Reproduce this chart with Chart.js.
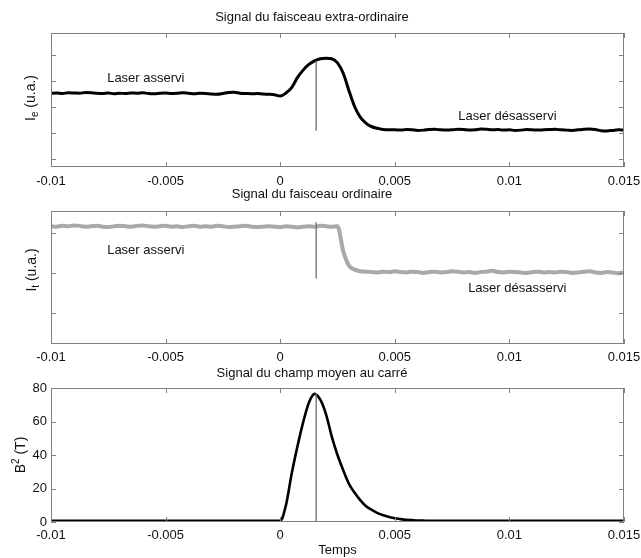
<!DOCTYPE html>
<html lang="fr">
<head>
<meta charset="utf-8">
<script src="https://cdn.jsdelivr.net/npm/chart.js@4.4.1/dist/chart.umd.min.js"></script>
<style>
html, body { margin: 0; padding: 0; background: #fff; }
#page { position: relative; width: 641px; height: 558px; overflow: hidden; background: #fff; }
canvas { position: absolute; left: 0; }
</style>
</head>
<body>
<div id="page">
  <canvas id="c1" width="641" height="200" style="top:0px"></canvas>
  <canvas id="c2" width="641" height="190" style="top:180px"></canvas>
  <canvas id="c3" width="641" height="200" style="top:358px"></canvas>
</div>
<script>
// temps en ms (l'axe affiche des secondes)
const temps = [
  -10,-9.75,-9.5,-9.25,-9,-8.75,-8.5,-8.25,-8,-7.75,
  -7.5,-7.25,-7,-6.75,-6.5,-6.25,-6,-5.75,-5.5,-5.25,
  -5,-4.75,-4.5,-4.25,-4,-3.75,-3.5,-3.25,-3,-2.75,
  -2.5,-2.25,-2,-1.75,-1.5,-1.25,-1,-0.75,-0.5,-0.25,
  0,0.25,0.5,0.75,1,1.25,1.5,1.75,2,2.25,
  2.5,2.75,3,3.25,3.5,3.75,4,4.25,4.5,4.75,
  5,5.25,5.5,5.75,6,6.25,6.5,6.75,7,7.25,
  7.5,7.75,8,8.25,8.5,8.75,9,9.25,9.5,9.75,
  10,10.25,10.5,10.75,11,11.25,11.5,11.75,12,12.25,
  12.5,12.75,13,13.25,13.5,13.75,14,14.25,14.5,14.75,
  15
];

const xTicks = [-10, -5, 0, 5, 10, 15];
const xTickLabels = ["-0.01", "-0.005", "0", "0.005", "0.01", "0.015"];

// faisceau extra-ordinaire (u.a.)
const signalIe = [
  3.53,3.54,3.52,3.55,3.54,3.53,3.56,3.55,3.53,3.52,
  3.54,3.51,3.53,3.52,3.54,3.53,3.55,3.52,3.51,3.53,
  3.54,3.52,3.53,3.55,3.53,3.51,3.53,3.52,3.50,3.49,
  3.52,3.56,3.57,3.53,3.52,3.51,3.52,3.50,3.49,3.47,
  3.42,3.54,3.75,4.13,4.42,4.64,4.78,4.86,4.88,4.86,
  4.70,4.30,3.63,3.01,2.60,2.37,2.24,2.18,2.13,2.12,
  2.12,2.11,2.13,2.12,2.10,2.11,2.13,2.14,2.12,2.11,
  2.12,2.14,2.13,2.11,2.12,2.15,2.14,2.12,2.13,2.11,
  2.12,2.10,2.11,2.13,2.12,2.11,2.12,2.13,2.14,2.12,
  2.11,2.10,2.12,2.14,2.15,2.13,2.09,2.08,2.10,2.12,
  2.11
];

// faisceau ordinaire (u.a.)
const signalIt = [
  3.17,3.16,3.18,3.17,3.19,3.18,3.16,3.17,3.18,3.16,
  3.15,3.17,3.18,3.17,3.16,3.18,3.19,3.17,3.16,3.17,
  3.18,3.16,3.17,3.15,3.17,3.18,3.16,3.17,3.16,3.18,
  3.17,3.15,3.16,3.17,3.18,3.16,3.15,3.16,3.17,3.16,
  3.15,3.17,3.16,3.14,3.16,3.17,3.16,3.18,3.17,3.16,
  3.17,2.55,2.19,2.09,2.05,
  2.04,2.03,2.02,2.04,2.03,2.05,2.03,2.02,2.04,2.03,
  2.01,2.03,2.04,2.02,2.03,2.05,2.04,2.02,2.03,2.01,
  2.03,2.04,2.06,2.03,2.02,2.04,2.03,2.02,2.01,2.03,
  2.04,2.02,2.03,2.02,2.04,2.03,2.01,2.02,2.04,2.05,
  2.02,2.01,2.03,2.02,2.00,2.02
];

// champ moyen au carré (T)
const signalB2 = [
  0.7,0.7,0.7,0.7,0.7,0.7,0.7,0.7,0.7,0.7,
  0.7,0.7,0.7,0.7,0.7,0.7,0.7,0.7,0.7,0.7,
  0.7,0.7,0.7,0.7,0.7,0.7,0.7,0.7,0.7,0.7,
  0.7,0.7,0.7,0.7,0.7,0.7,0.7,0.7,0.7,0.7,
  0.7,10,28.8,45,59.5,71.2,76.5,73,64.3,51,
  40,30.9,22.8,17.4,12.9,9.4,7.2,5.3,4.0,3.0,
  2.2,1.7,1.3,1.1,0.9,0.8,0.7,0.7,0.7,0.7,
  0.7,0.7,0.7,0.7,0.7,0.7,0.7,0.7,0.7,0.7,
  0.7,0.7,0.7,0.7,0.7,0.7,0.7,0.7,0.7,0.7,
  0.7,0.7,0.7,0.7,0.7,0.7,0.7,0.7,0.7,0.7,
  0.7
];

// trait vertical (instant du maximum)
const repereT = 1.57;
const repereIe = [4.78, 2.09];
const repereIt = [3.27, 1.87];
const repereB2 = [77, 0];

const yTicksIe = [1, 2, 3, 4, 5];
const yTicksIt = [1, 2, 3];
const yTicksB2 = [0, 20, 40, 60, 80];

const FONT = "'Liberation Sans', Arial, sans-serif";
Chart.defaults.font.family = FONT;
Chart.defaults.color = "#111";

// cadre matlab : bord, graduations vers l'intérieur, textes, label y
const cadre = {
  id: "cadre",
  afterDatasetsDraw(chart, args, o) {
    const { ctx, chartArea: a, scales: { x, y } } = chart;
    ctx.save();
    ctx.strokeStyle = "#808080";
    ctx.lineWidth = 1;
    ctx.strokeRect(Math.round(a.left) + 0.5, Math.round(a.top) + 0.5,
      Math.round(a.width) - 1, Math.round(a.height) - 1);
    ctx.beginPath();
    xTicks.forEach(v => {
      const px = Math.round(x.getPixelForValue(v)) + 0.5;
      ctx.moveTo(px, a.bottom); ctx.lineTo(px, a.bottom - 5);
      ctx.moveTo(px, a.top); ctx.lineTo(px, a.top + 5);
    });
    o.yTicks.forEach(v => {
      const py = Math.round(y.getPixelForValue(v)) + 0.5;
      ctx.moveTo(a.left, py); ctx.lineTo(a.left + 5, py);
      ctx.moveTo(a.right, py); ctx.lineTo(a.right - 5, py);
    });
    ctx.stroke();

    ctx.fillStyle = "#111";
    ctx.font = "13px " + FONT;
    ctx.textBaseline = "middle";
    ctx.textAlign = "left";
    (o.notes || []).forEach(n => {
      ctx.fillText(n.text, x.getPixelForValue(n.x), y.getPixelForValue(n.y));
    });

    const lab = o.ylab;
    ctx.translate(lab.px, lab.py);
    ctx.rotate(-Math.PI / 2);
    ctx.textBaseline = "alphabetic";
    const big = "14px " + FONT, small = "10px " + FONT;
    ctx.font = big; const w1 = ctx.measureText(lab.base).width;
    ctx.font = small; const w2 = ctx.measureText(lab.idx).width;
    ctx.font = big; const w3 = ctx.measureText(lab.rest).width;
    let cx = -(w1 + w2 + w3) / 2;
    ctx.font = big; ctx.fillText(lab.base, cx, 5); cx += w1;
    ctx.font = small; ctx.fillText(lab.idx, cx, lab.sub ? 8 : -1); cx += w2;
    ctx.font = big; ctx.fillText(lab.rest, cx, 5);
    ctx.restore();
  }
};

function makeChart(id, c) {
  return new Chart(document.getElementById(id), {
    type: "line",
    data: {
      datasets: [
        {
          data: c.repere.map(v => ({ x: repereT, y: v })),
          borderColor: "#6e6e6e",
          borderWidth: 1.3,
          pointRadius: 0,
          order: 0
        },
        {
          data: temps.map((t, i) => ({ x: t, y: c.serie[i] })),
          borderColor: c.couleur,
          borderWidth: c.epaisseur,
          pointRadius: 0,
          cubicInterpolationMode: "monotone",
          order: 1
        }
      ]
    },
    options: {
      responsive: false,
      animation: false,
      devicePixelRatio: 1,
      layout: { autoPadding: false, padding: { left: 0, right: 17, top: 0, bottom: 0 } },
      plugins: {
        legend: { display: false },
        tooltip: { enabled: false },
        title: {
          display: true,
          text: c.titre,
          color: "#111",
          font: { size: 13, weight: "normal" },
          padding: c.titrePad
        },
        cadre: { yTicks: c.yTicks, notes: c.notes, ylab: c.ylab }
      },
      scales: {
        x: {
          type: "linear",
          min: -10,
          max: 15,
          grid: { display: false, drawTicks: false },
          border: { display: false },
          afterBuildTicks: s => { s.ticks = xTicks.map(v => ({ value: v })); },
          afterFit: s => { s.height = c.xh; s.paddingLeft = 0; s.paddingRight = 0; },
          ticks: {
            autoSkip: false,
            maxRotation: 0,
            padding: c.xPad,
            color: "#111",
            font: { size: 13 },
            callback: v => xTickLabels[xTicks.indexOf(v)]
          },
          title: c.xTitre
            ? { display: true, text: c.xTitre, color: "#111", font: { size: 13 }, padding: { top: 0, bottom: 0 } }
            : { display: false }
        },
        y: {
          min: c.ymin,
          max: c.ymax,
          grid: { display: false, drawTicks: false },
          border: { display: false },
          afterBuildTicks: s => { s.ticks = c.yTicks.map(v => ({ value: v })); },
          afterFit: s => { s.width = 51; s.paddingTop = 0; s.paddingBottom = 0; },
          ticks: { display: c.yLabels, padding: 4, color: "#111", font: { size: 13 } }
        }
      }
    },
    plugins: [cadre]
  });
}

makeChart("c1", {
  titre: "Signal du faisceau extra-ordinaire",
  titrePad: { top: 10, bottom: 7.4 },
  serie: signalIe, repere: repereIe,
  couleur: "#000", epaisseur: 3,
  ymin: 0.69, ymax: 5.85, yTicks: yTicksIe, yLabels: false,
  xh: 33, xPad: 7,
  notes: [
    { text: "Laser asservi", x: -7.55, y: 4.12 },
    { text: "Laser désasservi", x: 7.77, y: 2.65 }
  ],
  ylab: { base: "I", idx: "e", rest: " (u.a.)", sub: true, px: 30, py: 98 }
});

makeChart("c2", {
  titre: "Signal du faisceau ordinaire",
  titrePad: { top: 7, bottom: 8.4 },
  serie: signalIt, repere: repereIt,
  couleur: "#a9a9a9", epaisseur: 4,
  ymin: 0.24, ymax: 3.55, yTicks: yTicksIt, yLabels: false,
  xh: 26, xPad: 6,
  notes: [
    { text: "Laser asservi", x: -7.55, y: 2.58 },
    { text: "Laser désasservi", x: 8.2, y: 1.635 }
  ],
  ylab: { base: "I", idx: "t", rest: " (u.a.)", sub: true, px: 31, py: 90 }
});

makeChart("c3", {
  titre: "Signal du champ moyen au carré",
  titrePad: { top: 7.2, bottom: 7.2 },
  serie: signalB2, repere: repereB2,
  couleur: "#000", epaisseur: 2.6,
  ymin: 0, ymax: 80, yTicks: yTicksB2, yLabels: true,
  xh: 36, xPad: 6, xTitre: "Temps",
  notes: [],
  ylab: { base: "B", idx: "2", rest: " (T)", sub: false, px: 20, py: 97 }
});
</script>
</body>
</html>
